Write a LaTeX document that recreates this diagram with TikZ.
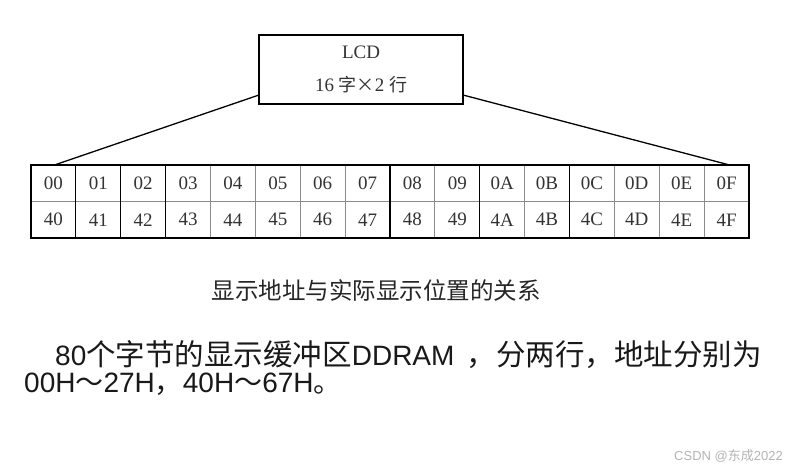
\documentclass[tikz,border=0pt]{standalone}
\usepackage{fontspec}
\setmainfont{Liberation Serif}
\newfontfamily\cjk{Noto Sans CJK SC}
\newfontfamily\lsans{Liberation Sans}
\definecolor{cellline}{HTML}{8C8C8C}
\definecolor{celltext}{HTML}{333333}
\definecolor{wmark}{HTML}{B4B4B4}
\begin{document}
\begin{tikzpicture}[x=1pt,y=-1pt,
  cell/.style={draw=cellline, line width=0.8pt, minimum width=44.875pt, minimum height=36.5pt,
    inner sep=0pt, outer sep=0pt, text=celltext, font=\fontsize{19}{22}\selectfont},
  thickline/.style={draw=black, line width=1.4pt},
  lcdbox/.style={draw=black, line width=1.3pt, minimum width=204pt, minimum height=69pt,
    inner sep=0pt, outer sep=0pt, align=center, text=celltext},
  fan/.style={draw=black, line width=1.3pt},
  caption/.style={font=\cjk\fontsize{23.5}{26}\selectfont, text=black!85, inner sep=0pt},
  bodytext/.style={text=black!90, inner sep=0pt, anchor=west},
  wm/.style={text=wmark, inner sep=0pt, font=\fontsize{13}{15}\selectfont}]
\useasboundingbox[fill=white] (0,0) rectangle (797,471);
% LCD box
\node[lcdbox] (lcd) at (361,69.5) {\fontsize{19}{22}\selectfont LCD\\[16pt]
  \fontsize{19}{22}\selectfont 16\ {\cjk\fontsize{18}{22}\selectfont 字×}2\ {\cjk\fontsize{18}{22}\selectfont 行}};
% table cells
\foreach \lab [count=\i from 0] in {00,01,02,03,04,05,06,07,08,09,0A,0B,0C,0D,0E,0F}{
  \node[cell] (t\i) at ({31+44.875*\i+22.4375},183.25) {\lab};
}
\foreach \lab [count=\i from 0] in {40,41,42,43,44,45,46,47,48,49,4A,4B,4C,4D,4E,4F}{
  \node[cell] (b\i) at ({31+44.875*\i+22.4375},219.75) {\lab};
}
\foreach \k in {1,2,3,8,10,12}{
  \draw[thickline, line width=1.2pt] (t\k.north west) -- (b\k.south west);
}
\draw[thickline] (t0.north west) rectangle (b15.south east);
% fan lines
\draw[fan] ([yshift=9pt]lcd.south west) -- ([xshift=1pt]t0.north);
\draw[fan] ([yshift=9pt]lcd.south east) -- ([xshift=3pt]t15.north);
% caption
\node[caption] (cap) at (376,290) {显示地址与实际显示位置的关系};
% body text
\node[bodytext] (l1) at (55,355) {{\lsans\fontsize{28}{30}\selectfont 80}{\cjk\fontsize{29.5}{32}\selectfont 个字节的显示缓冲区}{\lsans\fontsize{28}{30}\selectfont DDRAM\ \,}{\cjk\fontsize{29.5}{32}\selectfont ，分两行，地址分别为}};
\node[bodytext] (l2) at (24,384) {{\lsans\fontsize{28}{30}\selectfont 00H}{\cjk\fontsize{28}{30}\selectfont ～}{\lsans\fontsize{28}{30}\selectfont 27H}{\cjk\fontsize{28}{30}\selectfont ，}{\lsans\fontsize{28}{30}\selectfont 40H}{\cjk\fontsize{28}{30}\selectfont ～}{\lsans\fontsize{28}{30}\selectfont 67H}{\cjk\fontsize{28}{30}\selectfont 。}};
% watermark
\node[wm, anchor=east] (wmk) at (783,456) {{\lsans CSDN @}{\cjk 东成}{\lsans 2022}};
\end{tikzpicture}
\end{document}
